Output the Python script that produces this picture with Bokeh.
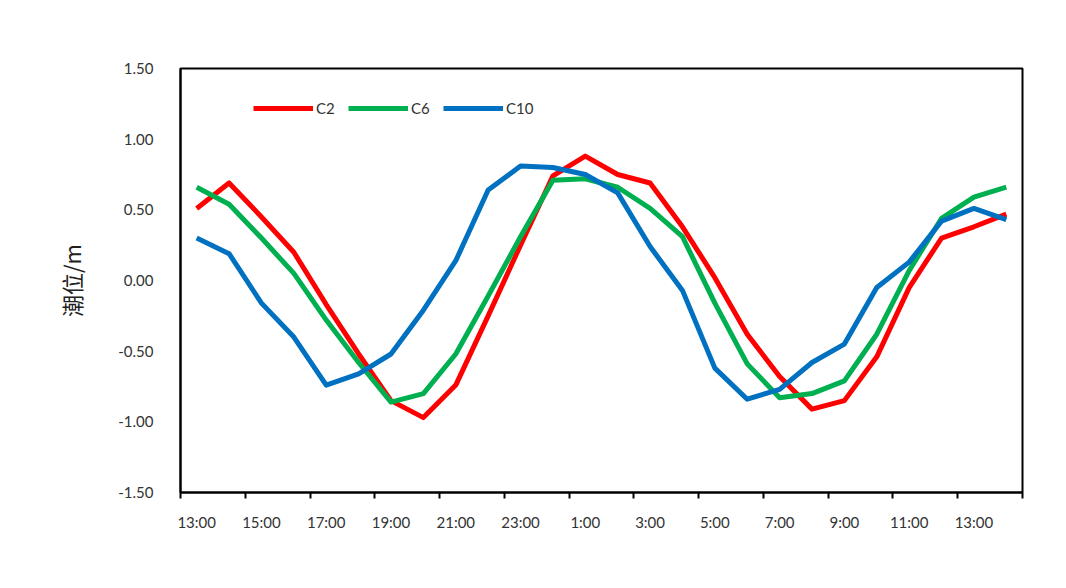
from bokeh.plotting import figure
from bokeh.models import FixedTicker, Range1d, Legend, LegendItem, CustomJSTickFormatter
from bokeh.embed import file_html
from bokeh.resources import INLINE

# Hourly categories from 13:00 to 14:00 next day
hours = ["13:00", "14:00", "15:00", "16:00", "17:00", "18:00", "19:00", "20:00",
         "21:00", "22:00", "23:00", "0:00", "1:00", "2:00", "3:00", "4:00",
         "5:00", "6:00", "7:00", "8:00", "9:00", "10:00", "11:00", "12:00",
         "13:00", "14:00"]

c2 = [0.51, 0.69, 0.45, 0.20, -0.17, -0.52, -0.85, -0.97, -0.74, -0.25, 0.25, 0.74,
      0.88, 0.75, 0.69, 0.38, 0.02, -0.38, -0.68, -0.91, -0.85, -0.54, -0.05, 0.30,
      0.38, 0.47]
c6 = [0.66, 0.54, 0.30, 0.05, -0.28, -0.58, -0.86, -0.80, -0.52, -0.11, 0.31, 0.71,
      0.72, 0.66, 0.51, 0.31, -0.16, -0.59, -0.83, -0.80, -0.71, -0.38, 0.07, 0.44,
      0.59, 0.66]
c10 = [0.30, 0.19, -0.16, -0.40, -0.74, -0.66, -0.52, -0.21, 0.14, 0.64, 0.81, 0.80,
       0.75, 0.62, 0.24, -0.07, -0.62, -0.84, -0.77, -0.58, -0.45, -0.05, 0.13, 0.42,
       0.51, 0.43]

series_names = ["C2", "C6", "C10"]
series_colors = ["#FF0000", "#00B050", "#0070C0"]
y_ticks = [-1.5, -1.0, -0.5, 0.0, 0.5, 1.0, 1.5]

xs = list(range(len(hours)))

W, H = 1050, 572
p = figure(width=W, height=H, output_backend="svg", toolbar_location=None,
           x_range=Range1d(-0.5, len(hours) - 0.5), y_range=Range1d(-1.5, 1.5),
           min_border_left=180, min_border_right=W - 1022,
           min_border_top=68, min_border_bottom=H - 492)
p.outline_line_color = "black"
p.outline_line_width = 2
p.xgrid.visible = False
p.ygrid.visible = False
p.background_fill_color = "white"
p.border_fill_color = "white"

renderers = []
for name, col, ys in zip(series_names, series_colors, [c2, c6, c10]):
    r = p.line(xs, ys, line_color=col, line_width=5, line_join="round")
    renderers.append(r)

font = "Lato"
label_color = "#333333"

# x axis
label_pos = list(range(0, len(hours), 2))
p.xaxis.ticker = FixedTicker(ticks=label_pos,
                             minor_ticks=[i - 0.5 for i in range(0, len(hours) + 1, 2)])
p.xaxis.major_label_overrides = {i: hours[i] for i in label_pos}
p.xaxis.major_tick_out = 0
p.xaxis.major_tick_in = 0
p.xaxis.minor_tick_out = 6
p.xaxis.minor_tick_in = 0
p.xaxis.minor_tick_line_color = "black"
p.xaxis.minor_tick_line_width = 2
p.xaxis.axis_line_color = "black"
p.xaxis.axis_line_width = 2
p.xaxis.major_label_standoff = 14
p.xaxis.major_label_text_font = font
p.xaxis.major_label_text_font_size = "15px"
p.xaxis.major_label_text_color = label_color

# y axis
p.yaxis.ticker = FixedTicker(ticks=y_ticks)
p.yaxis.formatter = CustomJSTickFormatter(code="return tick.toFixed(2);")
p.yaxis.major_tick_out = 0
p.yaxis.major_tick_in = 0
p.yaxis.minor_tick_out = 0
p.yaxis.minor_tick_in = 0
p.yaxis.axis_line_color = "black"
p.yaxis.axis_line_width = 2
p.yaxis.major_label_standoff = 27
p.yaxis.major_label_text_font = font
p.yaxis.major_label_text_font_size = "15px"
p.yaxis.major_label_text_color = label_color
p.yaxis.axis_label = "潮位/m"
p.yaxis.axis_label_text_font = "Noto Sans CJK SC"
p.yaxis.axis_label_text_font_style = "normal"
p.yaxis.axis_label_text_font_size = "22px"
p.yaxis.axis_label_text_color = "#202020"
p.yaxis.axis_label_standoff = 28

legend = Legend(items=[LegendItem(label=n, renderers=[r]) for n, r in zip(series_names, renderers)],
                orientation="horizontal", location=(73, 374),
                border_line_color=None, background_fill_alpha=0,
                glyph_width=60, glyph_height=20, label_height=20,
                label_standoff=3, spacing=12, padding=0, margin=0,
                label_text_font=font, label_text_font_size="15px",
                label_text_color=label_color)
p.add_layout(legend, "center")

open("out.html", "w").write(file_html(p, INLINE))
